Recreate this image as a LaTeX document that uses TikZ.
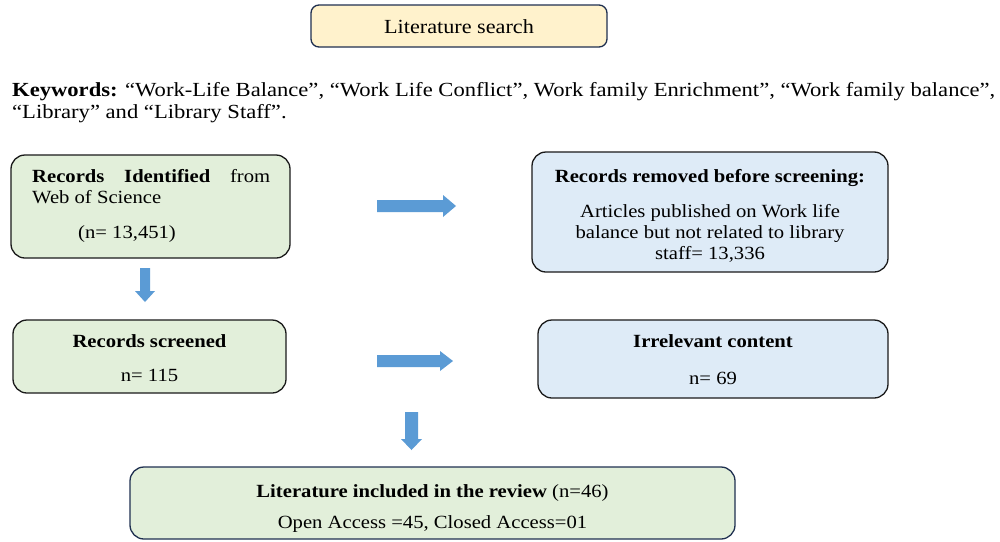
\documentclass[tikz,border=0pt]{standalone}
\usepackage{fontspec}
\usepackage{graphicx}
\setmainfont{Liberation Serif}
\usetikzlibrary{positioning}
\definecolor{arrowblue}{HTML}{5B9BD5}
\definecolor{boxgreen}{HTML}{E2EFDA}
\definecolor{boxblue}{HTML}{DEEBF7}
\definecolor{boxcream}{HTML}{FFF2CC}
\definecolor{navy}{HTML}{1F3050}
\definecolor{edge}{HTML}{1A1A1A}
\newcommand\sx[1]{\scalebox{1.11}[1]{#1}}
\newcommand\sk[1]{\scalebox{1.13}[1]{#1}}
\newcommand\bt{\fontsize{18.6}{21}\selectfont}
\begin{document}
\begin{tikzpicture}[x=1pt,y=-1pt,
  box/.style={draw=edge, line width=1.3pt, rounded corners=14pt, inner sep=0pt},
  greenbox/.style={box, fill=boxgreen},
  bluebox/.style={box, fill=boxblue},
  txt/.style={anchor=base, inner sep=0pt, font=\bt},
  txtl/.style={anchor=base west, inner sep=0pt, font=\bt},
  blockarrow/.style={fill=arrowblue, draw=none}]
\useasboundingbox (0,0) rectangle (1000,541);
\fill[white] (0,0) rectangle (1000,541);

% Literature search
\node[box, draw=navy, fill=boxcream, rounded corners=8pt, minimum width=296pt, minimum height=42pt] (ls) at (459,26) {};
\node[txt, font=\fontsize{20}{24}\selectfont] (lst) at (459,33) {\sx{Literature search}};

% Keywords
\node[txtl, font=\fontsize{20}{23}\selectfont] (kw1) at (12,96) {\sk{\textbf{Keywords:} “Work-Life Balance”, “Work Life Conflict”, Work family Enrichment”, “Work family balance”,}};
\node[txtl, font=\fontsize{20}{23}\selectfont] (kw2) at (12,118) {\sk{“Library” and “Library Staff”.}};

% Records identified
\node[greenbox, minimum width=279pt, minimum height=103pt] (ri) at (150.5,206.5) {};
\node[txtl] (ri1) at (32,182) {\makebox[238pt][s]{\sx{\textbf{Records}}\hfill\sx{\textbf{Identified}}\hfill\sx{from}}};
\node[txtl] (ri2) at (32,203) {\sx{Web of Science}};
\node[txtl] (ri3) at (78,238) {\sx{(n= 13,451)}};

% Records removed
\node[bluebox, minimum width=356pt, minimum height=120pt] (rr) at (710,212) {};
\node[txt] (rr1) at (710,182) {\sx{\textbf{Records removed before screening:}}};
\node[txt] (rr2) at (710,217) {\sx{Articles published on Work life}};
\node[txt] (rr3) at (710,238) {\sx{balance but not related to library}};
\node[txt] (rr4) at (710,259) {\sx{staff= 13,336}};

% Records screened
\node[greenbox, minimum width=273pt, minimum height=73pt] (rs) at (149.5,356.5) {};
\node[txt] (rs1) at (149.5,347) {\sx{\textbf{Records screened}}};
\node[txt] (rs2) at (149.5,381) {\sx{n= 115}};

% Irrelevant content
\node[bluebox, minimum width=350pt, minimum height=78pt] (ic) at (713,359) {};
\node[txt] (ic1) at (713,347) {\sx{\textbf{Irrelevant content}}};
\node[txt] (ic2) at (713,384) {\sx{n= 69}};

% Literature included
\node[greenbox, draw=navy, minimum width=605pt, minimum height=72pt] (li) at (432.5,503) {};
\node[txt] (li1) at (432.5,497) {\sx{\textbf{Literature included in the review} (n=46)}};
\node[txt] (li2) at (432.5,528) {\sx{Open Access =45, Closed Access=01}};

% Block arrows
\fill[blockarrow] (377,200) -- (443,200) -- (443,195) -- (456,206) -- (443,217) -- (443,212) -- (377,212) -- cycle;
\fill[blockarrow] (377,355) -- (440,355) -- (440,351) -- (453,361) -- (440,371) -- (440,367) -- (377,367) -- cycle;
\fill[blockarrow] (140,268) -- (150,268) -- (150,291) -- (155,291) -- (145,302) -- (135,291) -- (140,291) -- cycle;
\fill[blockarrow] (405,412) -- (418,412) -- (418,439) -- (422,439) -- (411.5,450) -- (401,439) -- (405,439) -- cycle;
\end{tikzpicture}
\end{document}
